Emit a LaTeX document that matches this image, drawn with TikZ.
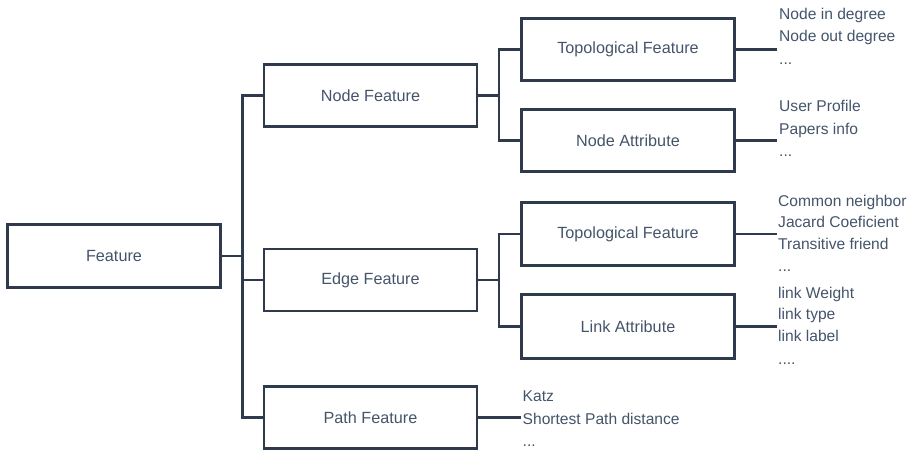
\documentclass[tikz,border=0pt]{standalone}
\usepackage{fontspec}
\setmainfont{Liberation Sans}
\definecolor{boxline}{HTML}{2F3A4C}
\definecolor{txt}{HTML}{44546A}
\begin{document}
\begin{tikzpicture}[x=1pt,y=-1pt,
  box/.style={draw=boxline, line width=2.6pt, minimum width=213pt,
    minimum height=62pt, inner sep=0pt, text=txt,
    font=\fontsize{16.2}{18}\selectfont},
  link/.style={draw=boxline, line width=2.2pt},
  lbl/.style={anchor=base west, inner sep=0pt, text=txt,
    font=\fontsize{15.6}{18}\selectfont}]
\useasboundingbox (0,0) rectangle (917,452);

% feature boxes
\node[box, minimum height=63pt] (feat)  at (114,256)   {Feature};
\node[box] (nodef) at (370.5,95.5)  {Node Feature};
\node[box] (edgef) at (370.5,280)   {Edge Feature};
\node[box] (pathf) at (370.5,417.5) {Path Feature};
\node[box] (topoN) at (628,49.5)    {Topological Feature};
\node[box] (nattr) at (628,140.5)   {Node Attribute};
\node[box, minimum height=63pt] (topoE) at (628,234) {Topological Feature};
\node[box, minimum height=64pt] (lattr) at (628,326.5) {Link Attribute};

% x positions of the vertical bars and of the label stubs
\coordinate (trunk) at (242.5,0);
\coordinate (sub)   at (499,0);
\coordinate (endR)  at (777,0);
\coordinate (endP)  at (521,0);

% tree connectors
\draw[link] (feat.east) -- (feat.east -| trunk);
\draw[link] (nodef.west) -- (nodef.west -| trunk) -- (pathf.west -| trunk) -- (pathf.west);
\draw[link] (edgef.west) -- (edgef.west -| trunk);

\draw[link] (nodef.east) -- (nodef.east -| sub);
\draw[link] (topoN.west) -- (topoN.west -| sub) -- (nattr.west -| sub) -- (nattr.west);

\draw[link] (edgef.east) -- (edgef.east -| sub);
\draw[link] (topoE.west) -- (topoE.west -| sub) -- (lattr.west -| sub) -- (lattr.west);

% stubs to the label lists
\draw[link] (topoN.east) -- (topoN.east -| endR);
\draw[link] (nattr.east) -- (nattr.east -| endR);
\draw[link] (topoE.east) -- (topoE.east -| endR);
\draw[link] (lattr.east) -- (lattr.east -| endR);
\draw[link] (pathf.east) -- (pathf.east -| endP);

% label lists
\node[lbl] (a1) at (779,19.3)  {Node in degree};
\node[lbl] (a2) at (779,41.8)  {Node out degree};
\node[lbl] (a3) at (779,64.3)  {...};

\node[lbl] (b1) at (779,111.7) {User Profile};
\node[lbl] (b2) at (779,134)   {Papers info};
\node[lbl] (b3) at (779,156.3) {...};

\node[lbl] (c1) at (778,206)   {Common neighbor};
\node[lbl] (c2) at (778,227.5) {Jacard Coeficient};
\node[lbl] (c3) at (778,249.3) {Transitive friend};
\node[lbl] (c4) at (778,271.5) {...};
\node[lbl] (c5) at (778,298.3) {link Weight};
\node[lbl] (c6) at (778,319.8) {link type};
\node[lbl] (c7) at (778,341.7) {link label};
\node[lbl] (c8) at (778,364)   {....};

\node[lbl] (d1) at (522.5,401.7) {Katz};
\node[lbl] (d2) at (522.5,424.3) {Shortest Path distance};
\node[lbl] (d3) at (522.5,446)   {...};
\end{tikzpicture}
\end{document}
